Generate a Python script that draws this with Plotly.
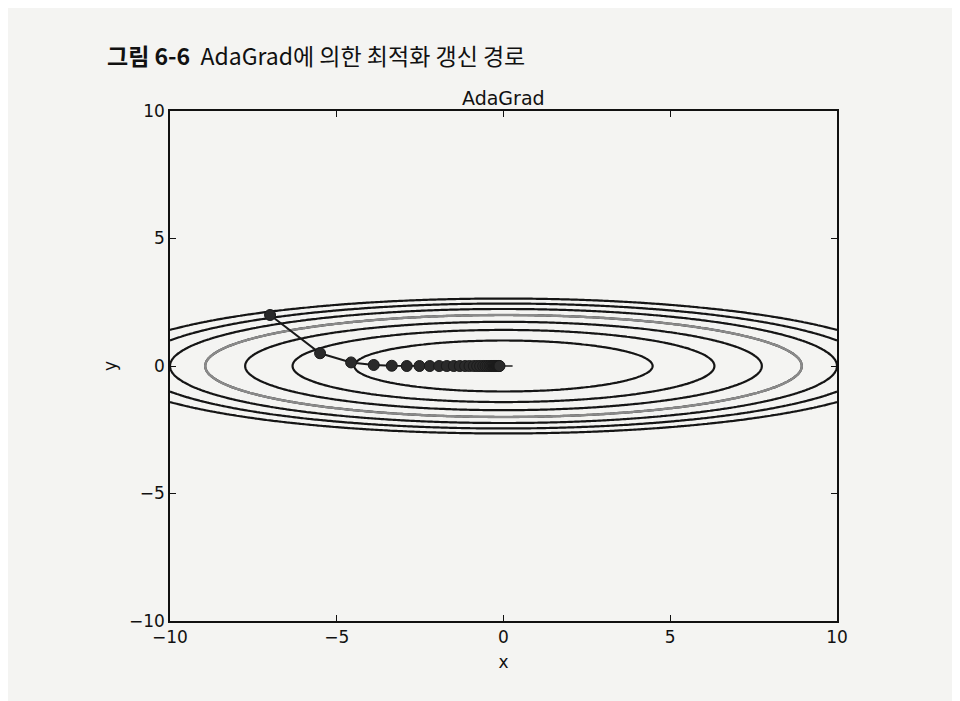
import numpy as np
import plotly.graph_objects as go

# optimisation path (AdaGrad, start at (-7, 2))
x_hist = [-7.0, -5.5, -4.57, -3.89, -3.35, -2.90, -2.52, -2.21, -1.93, -1.70,
          -1.49, -1.31, -1.15, -1.02, -0.89, -0.79, -0.70, -0.61, -0.54, -0.48,
          -0.42, -0.37, -0.33, -0.29, -0.26, -0.23, -0.20, -0.18, -0.16, -0.14, -0.12]
y_hist = [2.0, 0.5, 0.14, 0.04, 0.01, 0.0, 0.0, 0.0, 0.0, 0.0,
          0.0, 0.0, 0.0, 0.0, 0.0, 0.0, 0.0, 0.0, 0.0, 0.0,
          0.0, 0.0, 0.0, 0.0, 0.0, 0.0, 0.0, 0.0, 0.0, 0.0, 0.0]

# contour levels of f(x, y) = x^2/20 + y^2
levels = [1, 2, 3, 4, 5, 6, 7]
gray_level = 4

ticks = [-10, -5, 0, 5, 10]

grid_x = np.arange(-10, 10.01, 0.1)
grid_y = np.arange(-5, 5.01, 0.05)


def f(x, y):
    return x**2 / 20.0 + y**2


X, Y = np.meshgrid(grid_x, grid_y)
Z = f(X, Y)

BG = "#f4f4f2"
FONT = "DejaVu Sans"

fig = go.Figure()

# all levels in black
fig.add_trace(go.Contour(
    x=grid_x, y=grid_y, z=Z,
    contours=dict(start=levels[0], end=levels[-1], size=1, coloring="none"),
    line=dict(color="#151515", width=2.2),
    showscale=False, hoverinfo="skip",
))
# one level comes out lighter in the print
fig.add_trace(go.Contour(
    x=grid_x, y=grid_y, z=Z,
    contours=dict(start=gray_level, end=gray_level, size=1, coloring="none"),
    line=dict(color="#8a8a8a", width=2.4),
    showscale=False, hoverinfo="skip",
))

# the "+" at the minimum (only its horizontal arm shows past the dots)
fig.add_trace(go.Scatter(
    x=[0], y=[0], mode="markers",
    marker=dict(symbol="line-ew", size=13, line=dict(color="#222", width=1.5)),
    hoverinfo="skip",
))

fig.add_trace(go.Scatter(
    x=x_hist, y=y_hist, mode="lines+markers",
    line=dict(color="#1a1a1a", width=2),
    marker=dict(size=11, color="#2a2a2a", line=dict(color="#1a1a1a", width=1)),
))

axis = dict(
    range=[-10, 10], tickvals=ticks, ticks="inside", ticklen=6, tickwidth=1,
    tickcolor="#111", showgrid=False, zeroline=False, showline=True,
    linecolor="#111", linewidth=1.5, mirror="ticks",
    tickfont=dict(family=FONT, size=17, color="#111"),
)

fig.update_layout(
    width=960, height=701,
    margin=dict(l=162, r=131, t=103, b=88),
    paper_bgcolor=BG, plot_bgcolor=BG,
    showlegend=False,
    xaxis=dict(axis, title=dict(text="x", font=dict(family=FONT, size=17, color="#111"), standoff=10)),
    yaxis=dict(axis, title=dict(text="y", font=dict(family=FONT, size=17, color="#111"), standoff=8)),
    annotations=[
        dict(text="<b>그림 6-6</b>  AdaGrad에 의한 최적화 갱신 경로",
             xref="paper", yref="paper", x=-0.0975, y=1.11, xanchor="left", yanchor="middle",
             showarrow=False, font=dict(family="Noto Sans CJK KR", size=23, color="#111")),
        dict(text="AdaGrad", xref="paper", yref="paper", x=0.5, y=1.0, xanchor="center",
             yanchor="bottom", yshift=0, showarrow=False,
             font=dict(family=FONT, size=19, color="#111")),
    ],
)

fig.write_html("out.html")
